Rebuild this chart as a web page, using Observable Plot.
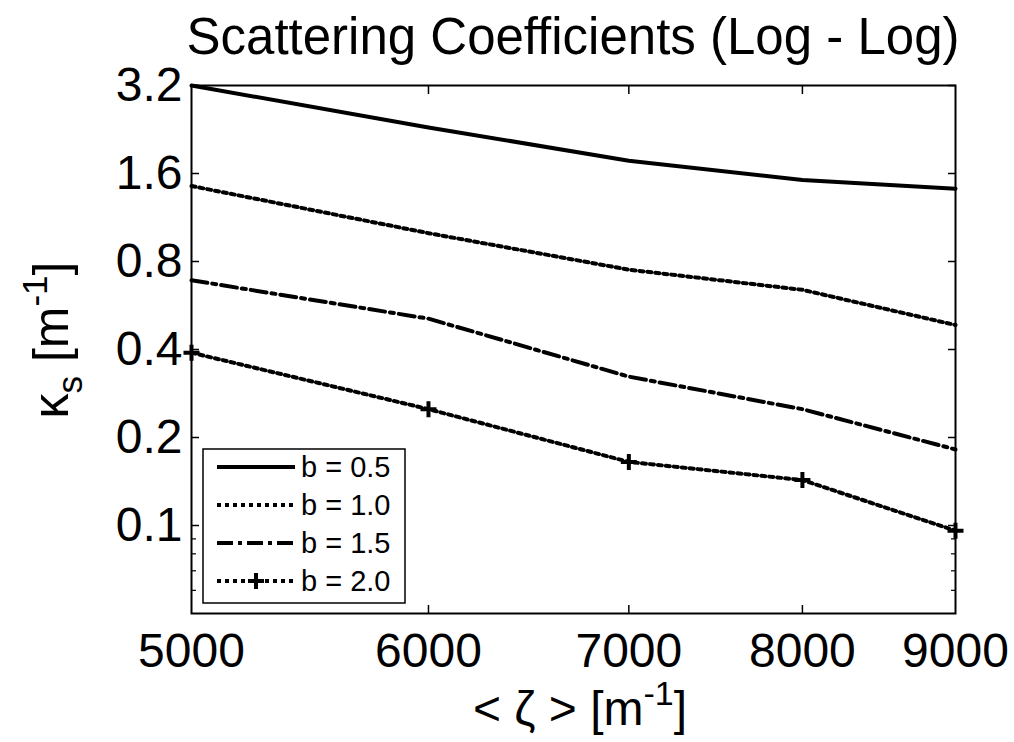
<!DOCTYPE html>
<html><head><meta charset="utf-8">
<script src="https://cdn.jsdelivr.net/npm/d3@7"></script>
<script src="https://cdn.jsdelivr.net/npm/@observablehq/plot@0.6"></script>
<style>body{margin:0;background:#fff;}</style>
</head><body><div id="chart"></div>
<script>
// Data (log-log)
const zeta = [5000, 6000, 7000, 8000, 9000];
const b05 = [3.2, 2.3, 1.77, 1.52, 1.42];
const b10 = [1.45, 1.0, 0.75, 0.64, 0.485];
const b15 = [0.69, 0.51, 0.323, 0.25, 0.182];
const b20 = [0.39, 0.25, 0.165, 0.143, 0.096];
const seriesLabels = ["b = 0.5", "b = 1.0", "b = 1.5", "b = 2.0"];
const xTicks = [5000, 6000, 7000, 8000, 9000];
const yTicks = [0.1, 0.2, 0.4, 0.8, 1.6, 3.2];
const yMinor = [0.06, 0.07, 0.08, 0.09];
const titleText = "Scattering Coefficients (Log - Log)";

const dashes = [null, "4,4", "16,5,4,5", "4,4"];
const allValues = [b05, b10, b15, b20];
const rows = allValues.flatMap((vals, k) => zeta.map((z, i) => ({z, v: vals[i], s: seriesLabels[k]})));

const plusSymbol = {
  draw(ctx, size) {
    const r = Math.sqrt(size / Math.PI);
    ctx.moveTo(-r, 0); ctx.lineTo(r, 0);
    ctx.moveTo(0, -r); ctx.lineTo(0, r);
  }
};

const font = "Liberation Sans, Arial, Helvetica, sans-serif";
const innerX = xTicks.slice(1, -1);
const LW = 4;

const svg = Plot.plot({
  width: 1014, height: 742,
  marginLeft: 191, marginRight: 59, marginTop: 85, marginBottom: 129,
  style: {fontFamily: font, background: "white", color: "black"},
  x: {type: "log", domain: [5000, 9000]},
  y: {type: "log", domain: [0.05, 3.2]},
  marks: [
    ...seriesLabels.map((lab, k) => Plot.line(rows.filter(d => d.s === lab), {
      x: "z", y: "v", stroke: "black", strokeWidth: LW,
      strokeDasharray: dashes[k], strokeLinejoin: "round"
    })),
    Plot.dot(rows.filter(d => d.s === seriesLabels[3]), {
      x: "z", y: "v", symbol: plusSymbol, r: 8, stroke: "black", strokeWidth: 4, fill: "none"
    }),
    Plot.frame({stroke: "black", strokeWidth: 2}),
    // tick labels
    Plot.axisX(xTicks, {anchor: "bottom", tickSize: 0, tickPadding: 19, fontSize: 48, tickFormat: d => String(d), label: null}),
    Plot.axisY(yTicks, {anchor: "left", tickSize: 0, tickPadding: 9, fontSize: 48, tickFormat: d => String(d), label: null}),
    // inward ticks
    Plot.axisX(innerX, {anchor: "bottom", tickSize: -8, tickFormat: () => "", label: null, strokeWidth: 1.5}),
    Plot.axisX(innerX, {anchor: "top", tickSize: -8, tickFormat: () => "", label: null, strokeWidth: 1.5}),
    Plot.axisY(yTicks, {anchor: "left", tickSize: -8, tickFormat: () => "", label: null, strokeWidth: 1.5}),
    Plot.axisY(yTicks, {anchor: "right", tickSize: -8, tickFormat: () => "", label: null, strokeWidth: 1.5}),
    Plot.axisY(yMinor, {anchor: "left", tickSize: -5, tickFormat: () => "", label: null, strokeWidth: 1.2}),
    Plot.axisY(yMinor, {anchor: "right", tickSize: -5, tickFormat: () => "", label: null, strokeWidth: 1.2})
  ]
});
document.getElementById("chart").appendChild(svg);

const s = d3.select(svg);
// Title
s.append("text").attr("x", 573).attr("y", 54).attr("text-anchor", "middle")
  .attr("font-family", font).attr("font-size", 51).attr("fill", "black").text(titleText);

// X label
const xl = s.append("text").attr("x", 580).attr("y", 725).attr("text-anchor", "middle")
  .attr("font-family", font).attr("font-size", 48).attr("fill", "black");
xl.append("tspan").text("< ζ > [m");
xl.append("tspan").attr("font-size", 34).attr("dy", -20).text("-1");
xl.append("tspan").attr("dy", 20).text("]");

// Y label
const yl = s.append("text").attr("transform", "translate(68,340) rotate(-90)").attr("text-anchor", "middle")
  .attr("font-family", font).attr("font-size", 50).attr("fill", "black");
yl.append("tspan").text("κ");
yl.append("tspan").attr("font-size", 35).attr("dy", 14).text("s");
yl.append("tspan").attr("dy", -14).text(" [m");
yl.append("tspan").attr("font-size", 35).attr("dy", -21).text("-1");
yl.append("tspan").attr("dy", 21).text("]");

// Legend
const lg = s.append("g");
lg.append("rect").attr("x", 203).attr("y", 449).attr("width", 202).attr("height", 154)
  .attr("fill", "white").attr("stroke", "black").attr("stroke-width", 1.5);
seriesLabels.forEach((lab, k) => {
  const cy = 467 + k * 38;
  lg.append("line").attr("x1", 217).attr("x2", 295).attr("y1", cy).attr("y2", cy)
    .attr("stroke", "black").attr("stroke-width", LW).attr("stroke-dasharray", dashes[k]);
  if (k === 3) {
    lg.append("path").attr("d", `M${256-8},${cy}h16M256,${cy-8}v16`).attr("stroke", "black").attr("stroke-width", 4);
  }
  lg.append("text").attr("x", 301).attr("y", cy).attr("dy", "0.35em").attr("text-anchor", "start")
    .attr("font-family", font).attr("font-size", 29).attr("fill", "black").text(lab);
});
</script></body></html>
